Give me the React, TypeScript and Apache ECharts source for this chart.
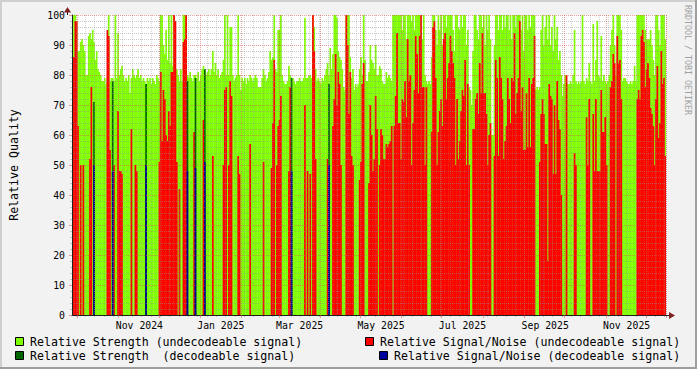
import React, { useEffect, useRef } from 'react';
import * as echarts from 'echarts';

const n = null;

// first day shown on the time axis (one bar per day)
const START_DATE = '2024-09-27';

// Relative Strength (undecodeable signal), daily
const STRENGTH_UNDECODEABLE: number[] = [
  94, 100, 100, 98, 88, 88, 91, 92, 90, 88,
  80, 80, 93, 94, 92, 95, 91, 85, 88, 82,
  81, 80, 78, 78, 79, 77, 79, 100, 78, 79,
  79, 78, 100, 79, 94, 80, 82, 83, 80, 78,
  79, 78, 80, 74, 79, 82, 80, 79, 80, 82,
  79, 80, 78, 79, 78, 77, 79, 78, 79, 77,
  79, 78, 77, 80, 79, 78, 100, 100, 90, 87,
  95, 85, 100, 84, 100, 83, 100, 80, 82, 80,
  78, 82, 78, 100, 100, 100, 80, 79, 81, 79,
  78, 80, 80, 79, 81, 78, 80, 82, 83, 82,
  80, 81, 82, 80, 82, 88, 81, 84, 80, 82,
  79, 80, 81, 85, 100, 80, 100, 80, 96, 96,
  80, 78, 79, 80, 100, 80, 75, 79, 78, 79,
  77, 79, 78, 80, 79, 78, 79, 80, 79, 76,
  76, 76, 79, 82, 80, 78, 79, 81, 88, 85,
  86, 100, 82, 81, 95, 95, 100, 80, 78, 77,
  77, 78, 83, 80, 79, 79, 78, 77, 78, 78,
  79, 78, 78, 79, 99, 79, 79, 80, 80, 79,
  100, 96, 82, 78, 79, 78, 77, 79, 78, 80,
  82, 84, 80, 89, 82, 87, 100, 100, 99, 88,
  86, 85, 82, 76, 75, 100, 100, 100, 86, 79,
  82, 75, 77, 76, 77, 82, 86, 80, 100, 85,
  78, 78, 81, 90, 85, 84, 82, 90, 80, 80,
  83, 82, 78, 77, 77, 81, 79, 80, 79, 78,
  100, 100, 100, 100, 100, 100, 100, 95, 100, 100,
  92, 100, 100, 100, 98, 100, 95, 100, 100, 100,
  100, 100, 92, 100, 80, 78, 77, 78, 77, 86,
  100, 100, 95, 90, 100, 95, 100, 90, 100, 100,
  96, 100, 100, 100, 100, 95, 88, 100, 100, 96,
  95, 100, 96, 100, 100, 90, 95, 76, 75, 70,
  88, 100, 100, 95, 92, 100, 100, 96, 100, 90,
  100, 95, 100, 92, 60, 60, 90, 100, 100, 95,
  100, 100, 95, 100, 96, 100, 100, 95, 100, 92,
  100, 100, 96, 100, 100, 100, 95, 100, 88, 100,
  100, 95, 100, 96, 100, 100, 100, 75, 76, 75,
  76, 95, 100, 90, 96, 100, 92, 100, 90, 96,
  88, 100, 92, 96, 85, 88, 80, 73, 77, 80,
  78, 77, 77, 78, 77, 80, 95, 78, 77, 78,
  77, 78, 100, 78, 77, 79, 78, 84, 78, 77,
  97, 78, 85, 98, 80, 79, 93, 78, 80, 78,
  77, 78, 80, 90, 95, 100, 90, 80, 100, 100,
  100, 95, 78, 79, 79, 78, 77, 77, 78, 77,
  78, 83, 78, 100, 100, 100, 100, 100, 100, 95,
  92, 92, 92, 95, 90, 85, 80, 100, 100, 95,
  90, 100, 100, 100, 92,
];

// Relative Signal/Noise (undecodeable signal), daily
const SN_UNDECODEABLE: (number | null)[] = [
  86, 86, 98, 98, 63, n, 50, n, 50, n,
  n, n, n, 52, 76, n, n, n, n, n,
  n, n, n, n, n, n, 95, 93, 55, n,
  n, 50, n, n, 68, 48, 48, 47, n, n,
  n, n, n, n, 62, n, n, 50, 48, n,
  n, n, n, n, n, n, n, n, n, n,
  n, n, n, n, n, 51, 81, 58, 75, 72,
  60, 58, 68, 63, 81, 81, 100, 98, 51, n,
  42, n, n, 91, 92, 100, n, n, n, n,
  n, 61, n, n, n, n, n, n, 65, n,
  n, n, n, n, n, 53, n, n, n, n,
  n, n, n, 50, 75, 76, n, 50, 78, 73,
  n, n, n, n, 53, 47, n, n, n, n,
  n, n, n, 57, n, n, n, n, n, n,
  n, n, n, 51, n, n, n, n, n, 49,
  64, 85, n, 50, 63, 65, 73, n, n, n,
  n, n, 48, 76, n, n, n, n, n, n,
  n, n, n, n, 70, n, 48, n, 47, n,
  100, 88, 52, n, n, n, n, n, n, n,
  n, 52, n, n, n, 63, 72, 87, 70, 81,
  77, 50, n, n, n, 100, 90, 67, 81, 53,
  50, n, n, n, n, 45, 51, 77, 84, n,
  n, n, 44, 70, 60, 48, 52, 73, 62, n,
  50, 62, 60, 52, 52, 57, 56, 57, 58, 63,
  n, 63, 73, 94, 64, 64, 52, 72, 71, 78,
  66, 92, 78, 80, 50, 64, 75, 93, 87, 74,
  93, 100, 76, 76, 50, 76, n, n, n, 61,
  96, 98, 79, 50, 61, 68, 72, 63, 92, 94,
  72, 79, 84, 93, 88, 84, 79, 50, 72, 52,
  58, 68, 75, 73, 85, 50, 77, 50, n, n,
  62, 62, 72, 74, 67, 84, 74, 94, 74, 74,
  67, 50, 60, 64, n, n, 53, 85, 79, 53,
  86, 79, 72, 52, 58, 63, 79, 72, 64, 79,
  78, 94, 67, 74, 79, 98, 68, 76, 55, 55,
  74, 56, 79, 56, 77, 79, 93, n, n, n,
  51, 67, 72, 67, 57, 57, 18, 77, 73, 72,
  47, 70, 47, 78, 65, 62, 40, n, n, n,
  80, n, n, n, n, n, 54, 50, n, n,
  n, n, n, n, n, 66, 50, 72, n, n,
  67, 48, 72, 48, 48, 48, 75, 61, 61, 66,
  50, n, n, 76, 78, 87, 84, n, 93, 84,
  85, 72, n, n, n, n, n, n, n, n,
  n, n, n, 72, 75, 72, 93, 95, 91, 76,
  82, 84, 79, 69, 67, 63, 50, 72, 83, 59,
  64, 88, 77, 79, 53,
];

// decodeable signal: day indices and values
const DECODE_DAYS = [16, 30, 55, 86, 92, 99, 164, 192];
const STRENGTH_DECODEABLE = [71, 78, 77, 78, 79, 82, 79, 77];
const SN_DECODEABLE = [50, 48, 50, 48, 49, 51, 48, 50];

// x labels (centered mid-month)
const LABEL_DATES = ['2024-11-16', '2025-01-16', '2025-03-16', '2025-05-16', '2025-07-16', '2025-09-16', '2025-11-16'];
const TICK_LABELS = ['Nov 2024', 'Jan 2025', 'Mar 2025', 'May 2025', 'Jul 2025', 'Sep 2025', 'Nov 2025'];

const LEGEND_NAMES = [
  'Relative Strength (undecodeable signal)',
  'Relative Strength  (decodeable signal)',
  'Relative Signal/Noise (undecodeable signal)',
  'Relative Signal/Noise (decodeable signal)',
];

const C_LIME = '#80FF00';
const C_DKGREEN = '#006400';
const C_RED = '#FF0000';
const C_BLUE = '#00009A';
const MONO = '"DejaVu Sans Mono", monospace';
const MGRID = 'rgba(222,79,79,0.55)';
const GRID = 'rgba(143,143,143,0.5)';
const VGRID = 'rgba(143,143,143,0.4)';

function buildDates(start: string, count: number): string[] {
  const out: string[] = [];
  const t0 = Date.parse(start + 'T00:00:00Z');
  for (let i = 0; i < count; i++) {
    const d = new Date(t0 + i * 86400000);
    out.push(d.toISOString().slice(0, 10));
  }
  return out;
}

const DAYS = buildDates(START_DATE, STRENGTH_UNDECODEABLE.length);

function sparse(values: number[]): (number | null)[] {
  const arr: (number | null)[] = DAYS.map(() => null);
  DECODE_DAYS.forEach((d, i) => { arr[d] = values[i]; });
  return arr;
}

const isMonthStart = (_i: number, v: string) => v.slice(8, 10) === '01';
const isMonday = (_i: number, v: string) => new Date(v + 'T00:00:00Z').getUTCDay() === 1;

export default function App() {
  const ref = useRef<HTMLDivElement>(null);
  useEffect(() => {
    if (!ref.current) return;
    const chart = echarts.init(ref.current, undefined, { renderer: 'svg' });
    const bar = (name: string, data: (number | null)[], color: string) => ({
      type: 'bar',
      name,
      data,
      barWidth: 1.7,
      barGap: '-100%',
      itemStyle: { color },
      silent: true,
      z: 2,
    });
    chart.setOption({
      animation: false,
      backgroundColor: '#F2F2F2',
      grid: { left: 67, right: 31, top: 15, bottom: 54, show: true, backgroundColor: '#FFFFFF', borderWidth: 0 },
      xAxis: [
        {
          type: 'category',
          data: DAYS,
          boundaryGap: true,
          z: 6,
          axisLine: { show: true, lineStyle: { color: '#1F1F1F', width: 1 } },
          axisTick: { show: true, interval: isMonthStart, length: 3, lineStyle: { color: MGRID } },
          axisLabel: {
            interval: (_i: number, v: string) => LABEL_DATES.includes(v),
            formatter: (v: string) => TICK_LABELS[LABEL_DATES.indexOf(v)] ?? '',
            fontFamily: MONO,
            fontSize: 9.8,
            color: '#000',
            margin: 5,
          },
          splitLine: { show: true, interval: isMonthStart, lineStyle: { color: MGRID, type: [1, 1], width: 1 } },
        },
        {
          type: 'category',
          data: DAYS,
          position: 'bottom',
          boundaryGap: true,
          z: 5,
          axisLine: { show: false },
          axisLabel: { show: false },
          axisTick: { show: true, interval: isMonday, length: 2, lineStyle: { color: GRID } },
          splitLine: { show: true, interval: isMonday, lineStyle: { color: VGRID, type: [1, 1], width: 1 } },
        },
      ],
      yAxis: {
        type: 'value',
        min: 0,
        max: 100,
        interval: 10,
        z: 6,
        name: 'Relative Quality',
        nameLocation: 'middle',
        nameGap: 52,
        nameTextStyle: { fontFamily: MONO, fontSize: 11.6, color: '#000' },
        axisLine: { show: true, lineStyle: { color: '#1F1F1F', width: 1 } },
        axisTick: { show: true, length: 3, lineStyle: { color: MGRID } },
        minorTick: { show: true, splitNumber: 5, length: 2, lineStyle: { color: GRID } },
        axisLabel: { fontFamily: MONO, fontSize: 9.8, color: '#000', margin: 7 },
        splitLine: { show: true, lineStyle: { color: MGRID, type: [1, 1], width: 1 } },
        minorSplitLine: { show: true, lineStyle: { color: GRID, type: [1, 1], width: 1 } },
      },
      series: [
        bar(LEGEND_NAMES[0], STRENGTH_UNDECODEABLE, C_LIME),
        bar(LEGEND_NAMES[2], SN_UNDECODEABLE, C_RED),
        bar(LEGEND_NAMES[1], sparse(STRENGTH_DECODEABLE), C_DKGREEN),
        bar(LEGEND_NAMES[3], sparse(SN_DECODEABLE), C_BLUE),
      ],
      graphic: [
        // frame shading
        { type: 'rect', shape: { x: 0, y: 0, width: 697, height: 2 }, style: { fill: '#CFCFCF' }, silent: true },
        { type: 'rect', shape: { x: 0, y: 0, width: 2, height: 369 }, style: { fill: '#CFCFCF' }, silent: true },
        { type: 'rect', shape: { x: 0, y: 367, width: 697, height: 2 }, style: { fill: '#9E9E9E' }, silent: true },
        { type: 'rect', shape: { x: 695, y: 0, width: 2, height: 369 }, style: { fill: '#9E9E9E' }, silent: true },
        // axis extensions and arrows
        { type: 'line', z: 100, shape: { x1: 67.5, y1: 15, x2: 67.5, y2: 10 }, style: { stroke: '#1F1F1F', lineWidth: 1 }, silent: true },
        { type: 'polygon', z: 100, shape: { points: [[64, 12.5], [71, 12.5], [67.5, 7]] }, style: { fill: '#801F1F' }, silent: true },
        { type: 'line', z: 100, shape: { x1: 666, y1: 315.5, x2: 670, y2: 315.5 }, style: { stroke: '#1F1F1F', lineWidth: 1 }, silent: true },
        { type: 'polygon', z: 100, shape: { points: [[669, 312], [669, 319], [675, 315.5]] }, style: { fill: '#801F1F' }, silent: true },
        // watermark
        {
          type: 'text', x: 688, y: 5, rotation: -Math.PI / 2, silent: true,
          style: { text: 'RRDTOOL / TOBI OETIKER', fill: '#A0A0A0', font: '8.3px "DejaVu Sans Mono"', textAlign: 'left', textVerticalAlign: 'middle', verticalAlign: 'middle' },
        },
        // legend
        { type: 'rect', shape: { x: 15.5, y: 337.5, width: 8, height: 8 }, style: { fill: C_LIME, stroke: '#000', lineWidth: 1 }, silent: true },
        { type: 'text', x: 30, y: 341.5, silent: true, style: { text: LEGEND_NAMES[0], fill: '#000', font: '11.6px "DejaVu Sans Mono"', textVerticalAlign: 'middle', verticalAlign: 'middle' } },
        { type: 'rect', shape: { x: 15.5, y: 351.5, width: 8, height: 8 }, style: { fill: C_DKGREEN, stroke: '#000', lineWidth: 1 }, silent: true },
        { type: 'text', x: 30, y: 355.5, silent: true, style: { text: LEGEND_NAMES[1], fill: '#000', font: '11.6px "DejaVu Sans Mono"', textVerticalAlign: 'middle', verticalAlign: 'middle' } },
        { type: 'rect', shape: { x: 365.5, y: 337.5, width: 8, height: 8 }, style: { fill: C_RED, stroke: '#000', lineWidth: 1 }, silent: true },
        { type: 'text', x: 380, y: 341.5, silent: true, style: { text: LEGEND_NAMES[2], fill: '#000', font: '11.6px "DejaVu Sans Mono"', textVerticalAlign: 'middle', verticalAlign: 'middle' } },
        { type: 'rect', shape: { x: 379.5, y: 351.5, width: 8, height: 8 }, style: { fill: C_BLUE, stroke: '#000', lineWidth: 1 }, silent: true },
        { type: 'text', x: 394, y: 355.5, silent: true, style: { text: LEGEND_NAMES[3], fill: '#000', font: '11.6px "DejaVu Sans Mono"', textVerticalAlign: 'middle', verticalAlign: 'middle' } },
      ],
    });
    return () => chart.dispose();
  }, []);
  return <div ref={ref} style={{ position: 'fixed', left: 0, top: 0, width: 697, height: 369 }} />;
}
